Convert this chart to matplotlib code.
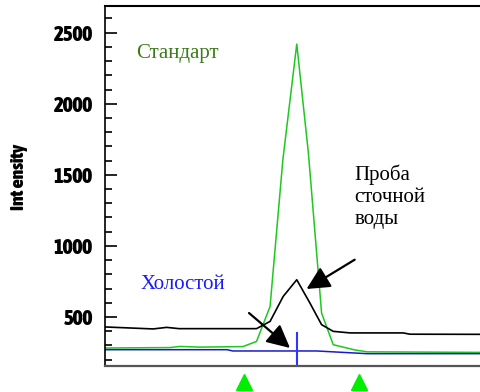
import matplotlib
matplotlib.use("Agg")
import matplotlib.pyplot as plt
from matplotlib import font_manager
from matplotlib.font_manager import FontProperties

# Retention-time axis (arbitrary scan units) and intensities for each trace
t_standard = [0, 17.3, 19.9, 25.3, 36.7, 40.3, 43.9, 47.3, 51.0, 54.1, 57.6, 60.7, 66.5, 69.7, 100]
i_standard = [282, 285, 293, 288, 292, 328, 574, 1605, 2420, 1652, 528, 305, 268, 255, 251]

t_sample = [0, 12.8, 16.4, 19.7, 40.3, 43.9, 47.4, 51.0, 54.5, 57.6, 60.7, 65.2, 79.3, 81.1, 100]
i_sample = [430, 416, 427, 418, 418, 469, 645, 762, 598, 446, 399, 388, 388, 379, 378]

t_blank = [0, 32.4, 34.0, 56.3, 59.8, 69.7, 100]
i_blank = [270, 270, 261, 261, 256, 242, 242]

marker_t = 51.0          # apex marker on the blank trace
marker_top = 388
window_t = [37.0, 67.6]  # integration window markers

y_ticks = [500, 1000, 1500, 2000, 2500]
y_lim = (153, 2688)
x_lim = (0, 100)

serif = ["Liberation Serif", "DejaVu Serif"]


def heavy_narrow_font(size):
    """Pick the heaviest condensed/narrow sans face available."""
    best = None
    for f in font_manager.fontManager.ttflist:
        fn = f.fname.lower()
        narrowish = ("condensed" in fn or "narrow" in fn or
                     str(f.stretch) in ("condensed", "semi-condensed", "extra-condensed"))
        w = f.weight if isinstance(f.weight, int) else font_manager.weight_dict.get(f.weight, 400)
        if narrowish and w >= 600 and "serif" not in f.name.lower().replace("sans", ""):
            if best is None or w > best[0]:
                best = (w, f.fname)
    if best:
        return FontProperties(fname=best[1], size=size)
    return FontProperties(family="DejaVu Sans", weight="bold", stretch="condensed", size=size)


tick_font = heavy_narrow_font(15)
label_font = heavy_narrow_font(14)

fig = plt.figure(figsize=(4.81, 3.92), dpi=100)
ax = fig.add_axes([0.2183, 0.0655, 0.7817, 0.9193])

ax.plot(t_standard, i_standard, color="#1ec81e", lw=1.1)
ax.plot(t_sample, i_sample, color="black", lw=1.2)
ax.plot(t_blank, i_blank, color="#1a1acd", lw=1.1)
ax.plot([marker_t, marker_t], [y_lim[0], marker_top], color="#3333ff", lw=1.5)

ax.plot(window_t, [45, 45], linestyle="none", marker="^", color="#00ee00",
        markersize=11, clip_on=False)

ax.set_xlim(*x_lim)
ax.set_ylim(*y_lim)
ax.set_xticks([])
ax.set_yticks(y_ticks)
ax.set_yticks(range(200, 2700, 100), minor=True)
ax.tick_params(axis="y", which="major", direction="in", length=8.5, width=1.2, pad=9)
ax.tick_params(axis="y", which="minor", direction="in", length=5, width=1.2)
for lab in ax.get_yticklabels():
    lab.set_fontproperties(tick_font)

ax.spines["right"].set_visible(False)
ax.spines["left"].set_linewidth(1.2)
ax.spines["top"].set_linewidth(1.5)
ax.spines["bottom"].set_linewidth(1.6)
ax.spines["bottom"].set_color("#555555")

fig.text(0.04, 0.548, "Int ensity", rotation=90, ha="center", va="center",
         fontproperties=label_font)

ax.text(8.4, 2355, "Стандарт", color="#3c7a1c", fontfamily=serif, fontsize=15,
        ha="left", va="center")
ax.text(9.5, 727, "Холостой", color="#1a1aff", fontfamily=serif, fontsize=15,
        ha="left", va="center")
ax.text(66.3, 1347, "Проба\nсточной\nводы", color="black", fontfamily=serif,
        fontsize=15, ha="left", va="center", linespacing=1.22)

arrow = dict(arrowstyle="-|>,head_length=1.0,head_width=0.5", color="black",
             lw=1.6, mutation_scale=14, shrinkA=0, shrinkB=0)
ax.annotate("", xy=(53.6, 697), xytext=(66.4, 903), arrowprops=arrow)
ax.annotate("", xy=(49.2, 282), xytext=(38.3, 528), arrowprops=arrow)

fig.savefig("out.png", dpi=100)
